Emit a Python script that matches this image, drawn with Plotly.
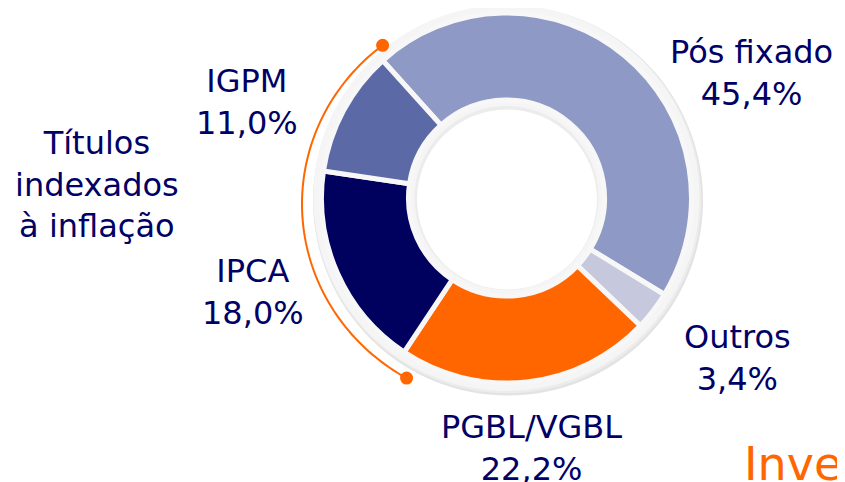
import math
import plotly.graph_objects as go

# ---- data ----
labels = ["Pós fixado", "Outros", "PGBL/VGBL", "IPCA", "IGPM"]
values = [45.4, 3.4, 22.2, 18.0, 11.0]
value_text = ["45,4%", "3,4%", "22,2%", "18,0%", "11,0%"]
colors = ["#8e9ac5", "#c6c9de", "#ff6600", "#00005f", "#5b6aa6"]
group_label = "Títulos<br>indexados<br>à inflação"
corner_text = "Inve"

W, H = 845, 482
OFF = 8                     # page body margin compensation
CX, CY = 506.5, 198         # pie centre in reference pixels


def P(px, py):
    """reference pixel -> paper coords"""
    return (px - OFF) / W, 1 - (py - OFF) / H


def dom(r):
    x0, y1 = P(CX - r, CY - r)
    x1, y0 = P(CX + r, CY + r)
    return dict(x=[x0, x1], y=[y0, y1])


fig = go.Figure()


def circle(cx, cy, r, fill, line_color=None, lw=0):
    x0, y1 = P(cx - r, cy - r)
    x1, y0 = P(cx + r, cy + r)
    fig.add_shape(type="circle", xref="paper", yref="paper", layer="below",
                  x0=x0, x1=x1, y0=y0, y1=y1, fillcolor=fill,
                  line=dict(color=line_color or fill, width=lw))


# frame rings: soft shadow, light grey ring, inner white hole with shadow
circle(CX + 1.5, CY + 2.5, 195, "#e3e3e3")
circle(CX + 0.8, CY + 1.2, 194, "#ececec")
circle(CX, CY, 193, "#f5f5f5")
circle(CX, CY, 92, "#ececec")
circle(CX + 0.5, CY + 1.5, 90, "#ffffff")

# data donut
fig.add_trace(go.Pie(labels=labels, values=values, sort=False, direction="clockwise",
                     rotation=-42, hole=98 / 185, domain=dom(185),
                     marker=dict(colors=colors, line=dict(color="#f7f7f7", width=5)),
                     textinfo="none", showlegend=False))

# labels
TXT = "#000066"
FONT = "DejaVu Sans, Verdana, sans-serif"
label_pos = {  # reference-pixel centre of each label block
    "Pós fixado": (751, 73),
    "Outros": (737, 358),
    "PGBL/VGBL": (531, 448),
    "IPCA": (253, 292),
    "IGPM": (247, 102),
}
for lab, vt in zip(labels, value_text):
    x, y = P(*label_pos[lab])
    fig.add_annotation(x=x, y=y, xref="paper", yref="paper",
                       text=f"{lab}<br>{vt}", showarrow=False,
                       xanchor="center", yanchor="middle",
                       font=dict(family=FONT, size=32, color=TXT))

x, y = P(97, 184)
fig.add_annotation(x=x, y=y, xref="paper", yref="paper",
                   text=group_label, showarrow=False, xanchor="center", yanchor="middle",
                   font=dict(family=FONT, size=32, color=TXT))

x, y = P(742, 464)
fig.add_annotation(x=x, y=y, xref="paper", yref="paper",
                   text=corner_text, showarrow=False, xanchor="left", yanchor="middle",
                   font=dict(family=FONT, size=46, color="#ff6600"))

# orange bracket arc around the inflation-linked slices
acx, acy, rx, ry = 508, 204, 206, 200
t0, t1 = -37.5, -150.5
pts = []
n = 80
for i in range(n + 1):
    t = math.radians(t0 + (t1 - t0) * i / n)
    pts.append(P(acx + rx * math.sin(t), acy - ry * math.cos(t)))
path = "M " + " L ".join(f"{x:.5f},{y:.5f}" for x, y in pts)
fig.add_shape(type="path", path=path, xref="paper", yref="paper",
              line=dict(color="#ff6600", width=2))
for (x, y) in (pts[0], pts[-1]):
    r = 6.5
    fig.add_shape(type="circle", xref="paper", yref="paper",
                  x0=x - r / W, x1=x + r / W, y0=y - r / H, y1=y + r / H,
                  fillcolor="#ff6600", line=dict(width=0))

fig.update_layout(width=W, height=H, margin=dict(l=0, r=0, t=0, b=0),
                  paper_bgcolor="white", plot_bgcolor="white", showlegend=False)

fig.write_html("out.html")
